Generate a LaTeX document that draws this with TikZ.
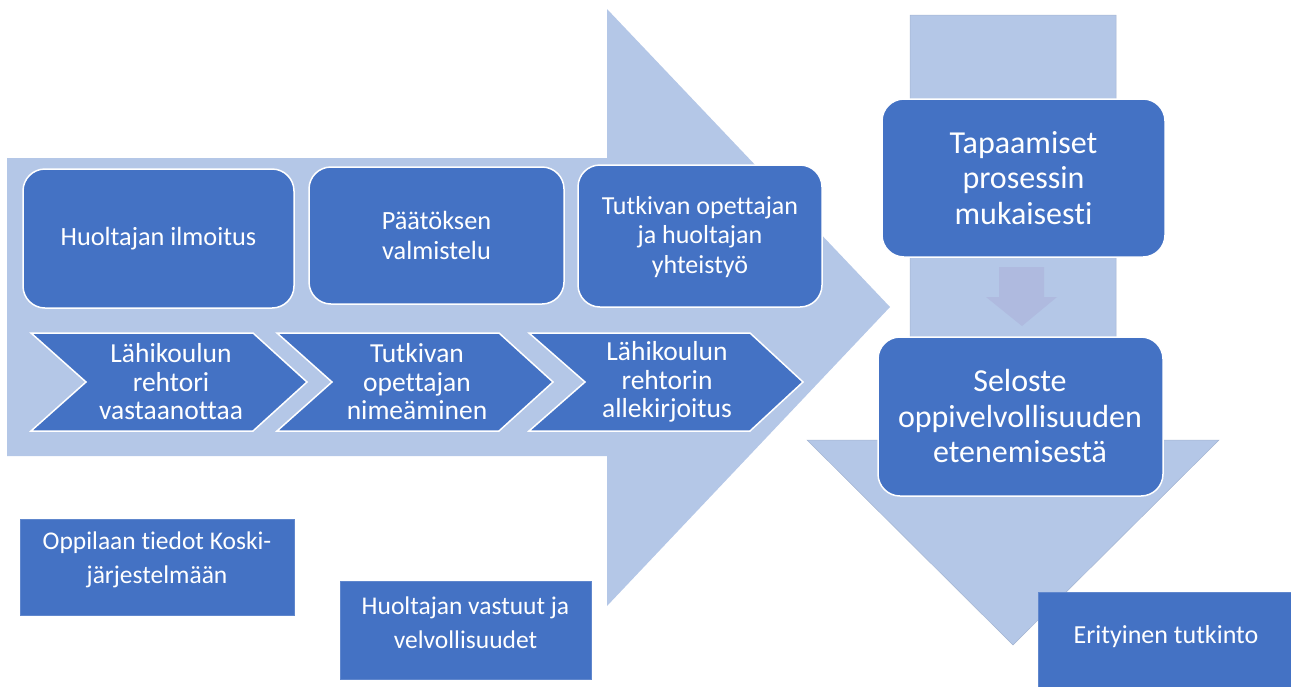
\documentclass[tikz,border=0pt]{standalone}
\usepackage{fontspec}
\setmainfont{Carlito}[Ligatures={NoCommon}]
\definecolor{lightc}{HTML}{B4C7E7}
\definecolor{darkc}{HTML}{4472C4}
\definecolor{faintc}{HTML}{AFBADF}
\begin{document}
\begin{tikzpicture}[x=1pt,y=-1pt,
  rbox/.style={fill=darkc,draw=white,line width=1.5pt,rounded corners=22pt,inner sep=0pt},
  sbox/.style={fill=darkc,draw=darkc!85!white,line width=0.8pt,inner sep=0pt},
  chev/.style={fill=darkc,draw=white,line width=1.5pt,line join=miter},
  wtxt/.style={text=white,align=center,inner sep=0pt},
  bigarrow/.style={fill=lightc,draw=none}]
\useasboundingbox (0,0) rectangle (1291,686);
% big right arrow
\path[bigarrow] (7,158) -- (607,158) -- (607,9) -- (890,307) -- (607,606) -- (607,456) -- (7,456) -- cycle;
% vertical down arrow
\path[bigarrow,draw=lightc!85!black!60!lightc,line width=0.5pt] (910,15) -- (1116,15) -- (1116,440) -- (1219,440) -- (1013,645) -- (807,440) -- (910,440) -- cycle;
% small faint arrow
\path[fill=faintc] (999,267) -- (1044,267) -- (1044,297) -- (1057,297) -- (1022,326) -- (986,297) -- (999,297) -- cycle;
% rounded boxes
\node[rbox,minimum width=271pt,minimum height=139pt] (b1) at (158.5,238.5) {};
\node[wtxt,font=\fontsize{26.3}{30}\selectfont] (t1) at (b1.center) {Huoltajan ilmoitus};
\node[rbox,minimum width=255pt,minimum height=137pt] (b2) at (436.5,235.5) {};
\node[wtxt,font=\fontsize{26.3}{30}\selectfont] (t2) at (b2.center) {Päätöksen\\valmistelu};
\node[rbox,minimum width=244pt,minimum height=142pt] (b3) at (700,236) {};
\node[wtxt,font=\fontsize{26}{29.5}\selectfont] (t3) at (700,237) {Tutkivan opettajan\\ja huoltajan\\yhteistyö};
\node[rbox,minimum width=283pt,minimum height=158pt] (b4) at (1023.5,178) {};
\node[wtxt,font=\fontsize{32}{35.5}\selectfont] (t4) at (b4.center) {Tapaamiset\\prosessin\\mukaisesti};
\node[rbox,minimum width=285pt,minimum height=159pt] (b5) at (1020.5,416.5) {};
\node[wtxt,font=\fontsize{32}{35.5}\selectfont] (t5) at (1020,416) {Seloste\\oppivelvollisuuden\\etenemisestä};
% chevrons
\path[chev] (31,333) -- (253,333) -- (307,382) -- (253,431) -- (31,431) -- (86,382) -- cycle;
\node[wtxt,font=\fontsize{27.5}{28.5}\selectfont] (c1) at (171,382) {Lähikoulun\\rehtori\\vastaanottaa};
\path[chev] (277,333) -- (499,333) -- (553,382) -- (499,431) -- (277,431) -- (332,382) -- cycle;
\node[wtxt,font=\fontsize{27.5}{28.5}\selectfont] (c2) at (417,382) {Tutkivan\\opettajan\\nimeäminen};
\path[chev] (529,333) -- (750,333) -- (803,382) -- (750,431) -- (529,431) -- (585,382) -- cycle;
\node[wtxt,font=\fontsize{27.5}{28.5}\selectfont] (c3) at (667,382) {Lähikoulun\\rehtorin\\allekirjoitus};
% square boxes
\node[sbox,minimum width=274pt,minimum height=96pt] (r1) at (157,567) {};
\node[wtxt,font=\fontsize{25.5}{34}\selectfont] (s1) at (157,560) {Oppilaan tiedot Koski-\\järjestelmään};
\node[sbox,minimum width=251pt,minimum height=98pt] (r2) at (465.5,630) {};
\node[wtxt,font=\fontsize{25.5}{34}\selectfont] (s2) at (465.5,623) {Huoltajan vastuut ja\\velvollisuudet};
\node[sbox,minimum width=253pt,minimum height=95pt] (r3) at (1164.5,639.5) {};
\node[wtxt,font=\fontsize{26}{30}\selectfont] (s3) at (1166,637) {Erityinen tutkinto};
\end{tikzpicture}
\end{document}
